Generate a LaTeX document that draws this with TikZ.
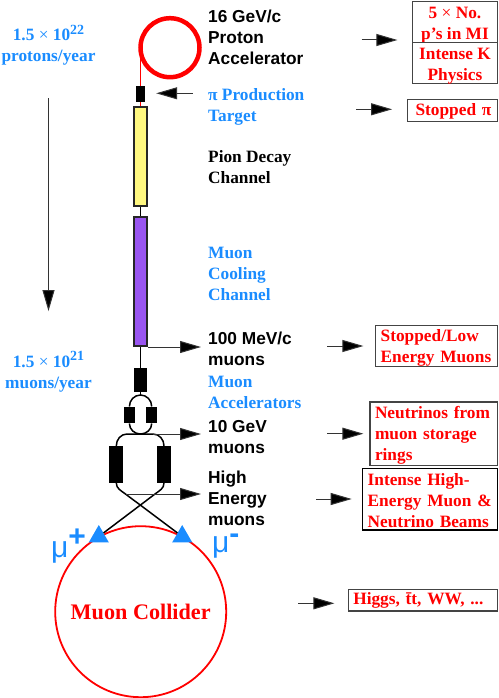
\documentclass[tikz,border=0pt]{standalone}
\usepackage{fontspec}
\setmainfont{Liberation Serif}
\newfontfamily\labelsans{Liberation Sans}
\usetikzlibrary{shapes.geometric,arrows.meta}
\definecolor{beamblue}{HTML}{1A8CFF}
\definecolor{boxgray}{HTML}{444444}
\definecolor{coolpurple}{HTML}{9955F0}
\newcommand{\boxstrut}[1]{\rule{0pt}{#1}}
\newcommand{\ratepow}[1]{\raisebox{6.5pt}{\fontsize{14}{14}\selectfont #1}}
\tikzset{
    redtxt/.style={text=red, font=\fontsize{17.3}{21}\selectfont\bfseries, inner sep=0pt},
    bluetxt/.style={text=beamblue, font=\fontsize{17.3}{21}\selectfont\bfseries, inner sep=0pt, align=left, anchor=west},
    serifblk/.style={font=\fontsize{17.3}{21}\selectfont\bfseries, inner sep=0pt, align=left, anchor=west},
    sansblk/.style={font=\fontsize{17.3}{21}\selectfont\labelsans\bfseries, inner sep=0pt, align=left, anchor=west},
    outbox/.style={redtxt, draw=boxgray, line width=1.2pt, align=left, inner xsep=5pt, inner ysep=-3pt},
    kaonbox/.style={redtxt, draw=boxgray, line width=1.2pt, align=center, inner ysep=-3pt, minimum width=85.4pt, minimum height=41pt},
    magnet/.style={fill=black, draw=none, inner sep=0pt},
    channel/.style={draw=black!85, line width=2pt, inner sep=0pt, minimum width=13pt},
    beam/.style={black, line width=1.5pt},
    flow/.style={black!80, line width=1pt, -{Triangle[length=21pt,width=12pt,fill=black]}},
    muontip/.style={regular polygon, regular polygon sides=3, fill=beamblue, inner sep=0pt, minimum size=23pt},
    muonsign/.style={text=beamblue, font=\fontsize{30}{30}\selectfont\labelsans, inner sep=0pt}
}
\begin{document}
\begin{tikzpicture}[x=1pt,y=-1pt]
    \useasboundingbox (0,0) rectangle (498,698);

    % rates on the left
    \node[bluetxt, anchor=center, align=center] (protonrate) at (48.5,45) {1.5 {\mdseries ×} 10\ratepow{22}\\protons/year};
    \node[bluetxt, anchor=center, align=center] (muonrate) at (48.5,371.5) {1.5 {\mdseries ×} 10\ratepow{21}\\muons/year};
    \draw[flow, shorten <=33pt, shorten >=40pt] (protonrate.south) -- (muonrate.north);

    % front end
    \node[draw=red, line width=4.5pt, circle, inner sep=0pt, outer sep=0pt, minimum size=59pt] (ring) at (170,47.7) {};
    \node[magnet, minimum width=9pt, minimum height=16pt] (target) at (140.5,94) {};
    \node[channel, fill=yellow!50, minimum height=99pt] (decay) at (140.5,156.5) {};
    \node[channel, fill=coolpurple, minimum height=129pt] (cooling) at (140.5,281.5) {};
    \draw[red, line width=1pt] (ring.west) -- (target.north);
    \draw[red, line width=1pt] (target.south) -- (decay.north);
    \draw[beam] (decay.south) -- (cooling.north);

    % accelerators
    \node[magnet, minimum width=13.4pt, minimum height=24pt] (linac) at (140.5,380) {};
    \node[magnet, minimum width=10.6pt, minimum height=16.6pt] (smallL) at (129.4,415) {};
    \node[magnet, minimum width=10.6pt, minimum height=16.6pt] (smallR) at (151.7,415) {};
    \node[magnet, minimum width=14pt, minimum height=36.7pt] (bigL) at (116.3,464.4) {};
    \node[magnet, minimum width=14pt, minimum height=36.7pt] (bigR) at (164,464.4) {};
    \coordinate (smalltop) at (140.5,395);
    \coordinate (smallbot) at (140.5,434);
    \coordinate (bigtopL) at (127,434);
    \coordinate (bigtopR) at (153,434);
    \coordinate (crossL) at (125.5,494);
    \coordinate (crossR) at (155,494);
    \draw[beam] (cooling.south) -- (linac.north);
    \draw[beam] (linac.south) -- (smalltop);
    \draw[beam] (smallL.north) to[out=90,in=180] (smalltop) to[out=0,in=90] (smallR.north);
    \draw[beam] (smallL.south) to[out=-90,in=180] (smallbot) to[out=0,in=-90] (smallR.south);
    \draw[beam] (bigL.north) to[out=90,in=180] (bigtopL) -- (bigtopR) to[out=0,in=90] (bigR.north);

    % collider and muon lines
    \node[draw=red, line width=1.8pt, circle, inner sep=0pt, minimum size=171pt] (collider) at (140.7,611.7) {};
    \node[redtxt, font=\fontsize{22.2}{24}\selectfont\bfseries] (collidertxt) at (140.7,612) {Muon Collider};
    \node[muontip] (tipL) at (98.8,536.5) {};
    \node[muontip] (tipR) at (182.2,536.5) {};
    \draw[beam] (bigL.south) to[out=-90,in=143] (crossL) -- (tipR);
    \draw[beam] (bigR.south) to[out=-90,in=37] (crossR) -- (tipL);
    \node[muonsign, anchor=west] (muplus) at (51,546) {μ\raisebox{11pt}{\bfseries +}};
    \node[muonsign, anchor=west] (muminus) at (212,546) {μ\raisebox{9pt}{\bfseries -}};

    % labels next to the line
    \node[sansblk] (acctxt) at (208,37) {16 GeV/c\\Proton\\Accelerator};
    \node[bluetxt] (targettxt) at (208,107) {π Production\\Target};
    \node[serifblk] (decaytxt) at (208,167) {Pion Decay\\Channel};
    \node[bluetxt] (coolingtxt) at (208,274) {Muon\\Cooling\\Channel};
    \node[sansblk] (lowtxt) at (208,349) {100 MeV/c\\muons};
    \node[bluetxt] (linactxt) at (208,392) {Muon\\Accelerators};
    \node[sansblk] (tentxt) at (208,437) {10 GeV\\muons};
    \node[sansblk] (hightxt) at (208,498) {High\\Energy\\muons};

    % physics boxes
    \node[kaonbox] (kaonA) at (455,22.2) {\boxstrut{17pt}5 {\mdseries ×} No.\\p's in MI};
    \node[kaonbox] (kaonB) at (455,63.3) {\boxstrut{17pt}Intense K\\Physics};
    \node[outbox, text width=80pt, minimum height=22pt] (pionbox) at (452.7,110.3) {\boxstrut{14pt}\,Stopped π};
    \node[outbox, text width=112pt, minimum height=41pt] (lowbox) at (436.7,346.2) {\boxstrut{16pt}Stopped/Low\\Energy Muons};
    \node[outbox, text width=117.7pt, minimum height=63.7pt] (nubox) at (433.85,433.85) {\boxstrut{15pt}Neutrinos from\\muon storage\\rings};
    \node[outbox, draw=black, text width=125pt, minimum height=61.3pt] (beambox) at (430.2,499.35) {\boxstrut{15pt}Intense High-\\Energy Muon \&\\Neutrino Beams};
    \node[outbox, text width=139.4pt, minimum height=21.7pt] (higgsbox) at (423,600.15) {Higgs, \=tt, WW, ...};

    % arrows
    \coordinate (acctail) at (361.7,40);
    \coordinate (targettail) at (192.7,93.3);
    \coordinate (piontail) at (356,109.3);
    \coordinate (lowtail) at (327.3,346);
    \coordinate (nutail) at (327.3,433.7);
    \coordinate (beamtail) at (316,499);
    \coordinate (higgstail) at (298.3,603.3);
    \draw[flow, shorten >=14.3pt] (acctail) -- (acctail -| kaonA.west);
    \draw[flow, shorten >=11pt] (targettail) -- (targettail -| target.east);
    \draw[flow, shorten >=15pt] (piontail) -- (piontail -| pionbox.west);
    \draw[flow, shorten >=11.7pt] (lowtail) -- (lowtail -| lowbox.west);
    \draw[flow, shorten >=6pt] (nutail) -- (nutail -| nubox.west);
    \draw[flow, shorten >=10.4pt] (beamtail) -- (beamtail -| beambox.west);
    \draw[flow, shorten >=13.3pt] (higgstail) -- (higgstail -| higgsbox.west);
    \draw[flow, shorten >=7pt] (cooling.south east) -- (cooling.south east -| lowtxt.west);
    \draw[flow, shorten >=7pt] (bigtopR) -- (bigtopR -| tentxt.west);
    \draw[flow, shorten >=7pt] (crossL) -- (crossL -| hightxt.west);
\end{tikzpicture}
\end{document}
